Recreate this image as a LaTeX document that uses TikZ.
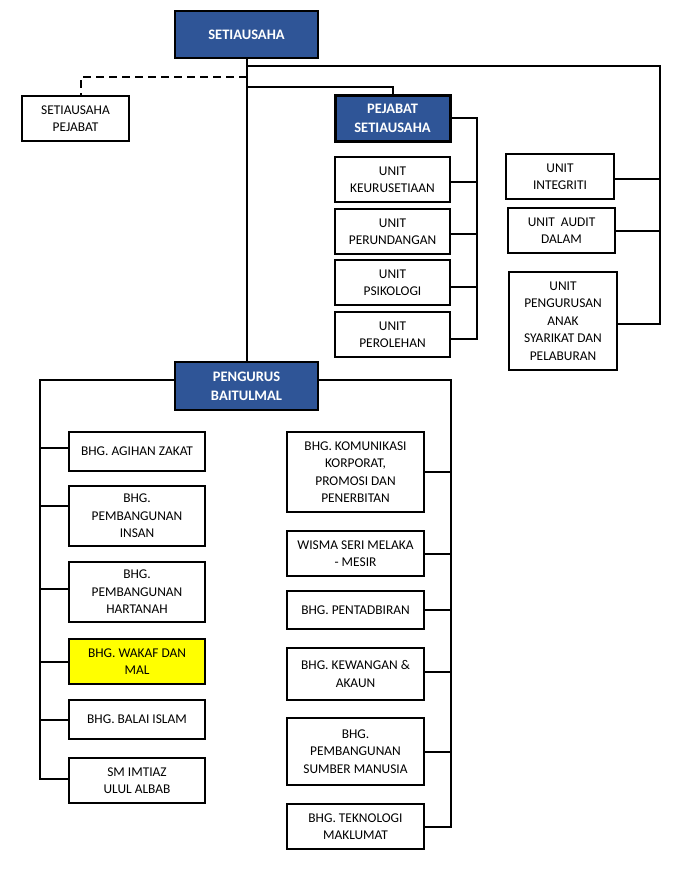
\documentclass[tikz,border=0pt]{standalone}
\usepackage{fontspec}
\setmainfont{Carlito}
\definecolor{navy}{HTML}{2F5597}
\definecolor{hilite}{HTML}{FFFF00}
\tikzset{
  box/.style={draw=black, line width=2pt, fill=white, align=center, inner sep=0pt,
    text=black, font=\fontsize{13.4}{17.5}\selectfont},
  bluebox/.style={box, fill=navy, text=white, font=\fontsize{14.5}{19}\selectfont\bfseries},
  conn/.style={line width=2pt},
  dconn/.style={line width=2pt, dash pattern=on 8pt off 5pt}
}
\newcommand{\bx}[7]{\node[#1, minimum width=#4pt, minimum height=#5pt] (#2) at (#3,#6) {#7};}
\begin{document}
\begin{tikzpicture}[x=1pt,y=-1pt]
\useasboundingbox (0,0) rectangle (688,880);
% top level
\bx{bluebox}{set}{246.5}{143}{47}{34.5}{SETIAUSAHA}
\bx{box}{sp}{75.5}{107}{45}{118.5}{SETIAUSAHA\\PEJABAT}
\bx{bluebox,line width=3pt}{pej}{392.5}{115}{45}{118.5}{PEJABAT\\SETIAUSAHA}
\bx{box}{keur}{392.5}{115}{45}{179.5}{UNIT\\KEURUSETIAAN}
\bx{box}{perund}{392.5}{115}{45}{231.5}{UNIT\\PERUNDANGAN}
\bx{box}{psik}{392.5}{115}{45}{282.5}{UNIT\\PSIKOLOGI}
\bx{box}{perol}{392.5}{115}{45}{334.5}{UNIT\\PEROLEHAN}
\bx{box}{integ}{560}{108}{45}{176.5}{UNIT\\INTEGRITI}
\bx{box}{audit}{561.5}{107}{45}{230.5}{UNIT\ \ AUDIT\\DALAM}
\bx{box}{anak}{563}{108}{98}{321}{UNIT\\PENGURUSAN\\ANAK\\SYARIKAT DAN\\PELABURAN}
\bx{bluebox}{peng}{246.5}{143}{48}{386}{PENGURUS\\BAITULMAL}
% left column
\bx{box}{agihan}{137}{136}{39}{451.5}{BHG. AGIHAN ZAKAT}
\bx{box}{insan}{137}{136}{60}{516}{BHG.\\PEMBANGUNAN\\INSAN}
\bx{box}{harta}{137}{136}{60}{592}{BHG.\\PEMBANGUNAN\\HARTANAH}
\bx{box,fill=hilite}{wakaf}{137}{136}{45}{661.5}{BHG. WAKAF DAN\\MAL}
\bx{box}{balai}{137}{136}{39}{719.5}{BHG. BALAI ISLAM}
\bx{box}{sm}{137}{136}{45}{780.5}{SM IMTIAZ\\ULUL ALBAB}
% right column
\bx{box}{kom}{355.5}{137}{80}{472}{BHG. KOMUNIKASI\\KORPORAT,\\PROMOSI DAN\\PENERBITAN}
\bx{box}{wisma}{355.5}{137}{45}{553.5}{WISMA SERI MELAKA\\- MESIR}
\bx{box}{pentad}{355.5}{137}{38}{610}{BHG. PENTADBIRAN}
\bx{box}{kew}{355.5}{137}{52}{674}{BHG. KEWANGAN \&\\AKAUN}
\bx{box}{sumber}{355.5}{137}{67}{751.5}{BHG.\\PEMBANGUNAN\\SUMBER MANUSIA}
\bx{box}{tek}{355.5}{137}{45}{826.5}{BHG. TEKNOLOGI\\MAKLUMAT}
% junction coordinates
\coordinate (rj) at (660,66);
\coordinate (dj) at (81,77);
\coordinate (pj) at (392.5,87);
\coordinate (pv) at (477,118);
\coordinate (lv) at (39.5,380);
\coordinate (rv) at (451,380);
% connectors
\draw[conn] (set.south) -- (peng.north);
\draw[conn] (set.south |- rj) -- (rj) |- ([yshift=-3pt]anak.east);
\draw[conn] ([yshift=-2pt]integ.east) -- ([yshift=-2pt]integ.east -| rj);
\draw[conn] (audit.east) -- (audit.east -| rj);
\draw[dconn] (set.south |- dj) -- (dj) -- (dj |- sp.north);
\draw[conn] (set.south |- pj) -| (pej.north);
\draw[conn] (pej.east) -- (pej.east -| pv) |- ([yshift=-4pt]perol.east);
\draw[conn] ([yshift=-2pt]keur.east) -- ([yshift=-2pt]keur.east -| pv);
\draw[conn] ([yshift=-2pt]perund.east) -- ([yshift=-2pt]perund.east -| pv);
\draw[conn] ([yshift=-4pt]psik.east) -- ([yshift=-4pt]psik.east -| pv);
\draw[conn] (peng.west |- lv) -- (lv) |- ([yshift=2pt]sm.west);
\draw[conn] (peng.east |- rv) -- (rv) |- (tek.east);
\draw[conn] ([yshift=4pt]agihan.west) -- ([yshift=4pt]agihan.west -| lv);
\draw[conn] ([yshift=10pt]insan.west) -- ([yshift=10pt]insan.west -| lv);
\draw[conn] ([yshift=3pt]harta.west) -- ([yshift=3pt]harta.west -| lv);
\draw[conn] (wakaf.west) -- (wakaf.west -| lv);
\draw[conn] (balai.west) -- (balai.west -| lv);
\draw[conn] (kom.east) -- (kom.east -| rv);
\draw[conn] (wisma.east) -- (wisma.east -| rv);
\draw[conn] (pentad.east) -- (pentad.east -| rv);
\draw[conn] ([yshift=2pt]kew.east) -- ([yshift=2pt]kew.east -| rv);
\draw[conn] (sumber.east) -- (sumber.east -| rv);
\end{tikzpicture}
\end{document}
